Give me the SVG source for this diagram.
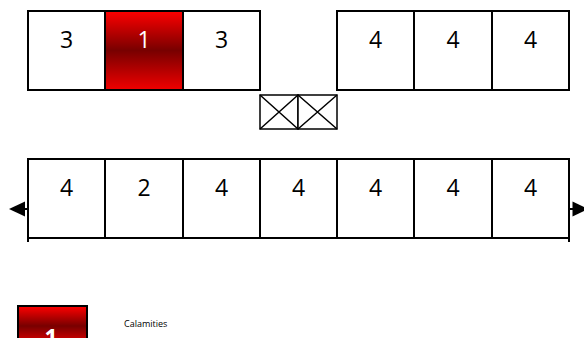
<svg xmlns="http://www.w3.org/2000/svg" width="584" height="338" viewBox="0 0 584 338">
<defs>
<linearGradient id="red" x1="0" y1="0" x2="0" y2="1">
<stop offset="0" stop-color="#ff0000"/>
<stop offset="0.5" stop-color="#780000"/>
<stop offset="1" stop-color="#f00000"/>
</linearGradient>
</defs>
<style>
.b{fill:#fff;stroke:#000;stroke-width:2}
.r{fill:url(#red);stroke:#000;stroke-width:2}
.t{font-family:"Open Sans","DejaVu Sans",sans-serif;font-size:23px;text-anchor:middle;fill:#000}
.w{fill:#fff}
.x{fill:#fff;stroke:#000;stroke-width:1.5}
.l{stroke:#000;stroke-width:2;fill:none}
</style>
<g id="top-left">
<g id="n1"><rect class="b" x="28" y="11" width="77" height="79"/><text class="t" x="66.5" y="48">3</text></g>
<g id="n2"><rect class="r" x="105" y="11" width="78" height="79"/><text class="t w" x="144" y="48">1</text></g>
<g id="n3"><rect class="b" x="183" y="11" width="77" height="79"/><text class="t" x="221.5" y="48">3</text></g>
</g>
<g id="top-right">
<g id="n4"><rect class="b" x="337" y="11" width="77" height="79"/><text class="t" x="375.5" y="48">4</text></g>
<g id="n5"><rect class="b" x="414" y="11" width="78" height="79"/><text class="t" x="453" y="48">4</text></g>
<g id="n6"><rect class="b" x="492" y="11" width="77" height="79"/><text class="t" x="530.5" y="48">4</text></g>
</g>
<g id="crossings">
<g id="x1"><rect class="x" x="260" y="95" width="38" height="34"/><path class="x" d="M260,95 L298,129 M298,95 L260,129"/></g>
<g id="x2"><rect class="x" x="298" y="95" width="39" height="34"/><path class="x" d="M298,95 L337,129 M337,95 L298,129"/></g>
</g>
<g id="bottom-row">
<g id="m1"><rect class="b" x="28" y="159" width="77" height="79"/><text class="t" x="66.5" y="196">4</text></g>
<g id="m2"><rect class="b" x="105" y="159" width="78" height="79"/><text class="t" x="144" y="196">2</text></g>
<g id="m3"><rect class="b" x="183" y="159" width="77" height="79"/><text class="t" x="221.5" y="196">4</text></g>
<g id="m4"><rect class="b" x="260" y="159" width="77" height="79"/><text class="t" x="298.5" y="196">4</text></g>
<g id="m5"><rect class="b" x="337" y="159" width="77" height="79"/><text class="t" x="375.5" y="196">4</text></g>
<g id="m6"><rect class="b" x="414" y="159" width="78" height="79"/><text class="t" x="453" y="196">4</text></g>
<g id="m7"><rect class="b" x="492" y="159" width="77" height="79"/><text class="t" x="530.5" y="196">4</text></g>
</g>
<g id="connectors">
<line class="l" x1="28" y1="238" x2="28" y2="242"/>
<line class="l" x1="569" y1="238" x2="569" y2="242"/>
<path class="l" d="M28,209 L24,209"/>
<path d="M25,201.5 L9,209 L25,216.5 Z" fill="#000"/>
<path class="l" d="M569,209 L573,209"/>
<path d="M572.5,201.5 L588,209 L572.5,216.5 Z" fill="#000"/>
</g>
<g id="legend">
<rect class="r" x="18" y="306" width="69" height="40"/>
<text x="51" y="346" font-family="Open Sans, DejaVu Sans, sans-serif" font-size="23" font-weight="bold" fill="#fff" text-anchor="middle">1</text>
<text x="124" y="327" font-family="Open Sans, DejaVu Sans, sans-serif" font-size="9" fill="#000">Calamities</text>
</g>
</svg>
